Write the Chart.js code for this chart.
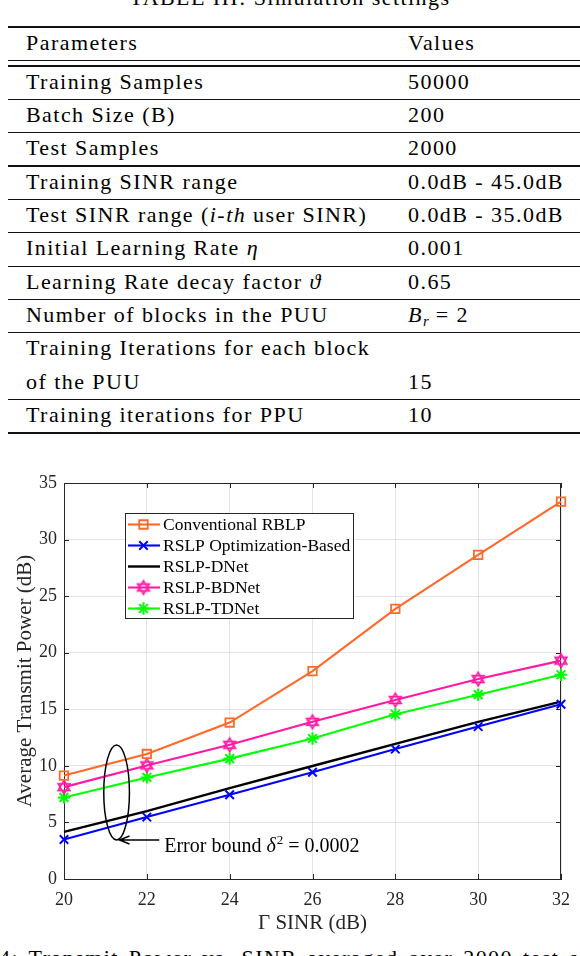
<!DOCTYPE html>
<html>
<head>
<meta charset="utf-8">
<script src="https://cdn.jsdelivr.net/npm/chart.js@4.4.1/dist/chart.umd.min.js"></script>
<style>
html,body{margin:0;padding:0;background:#fff;}
body{width:580px;height:956px;position:relative;overflow:hidden;font-family:'Liberation Serif','Times New Roman',serif;color:#000;}
.t{position:absolute;font-family:'Liberation Serif','Times New Roman',serif;font-size:22px;line-height:33px;letter-spacing:1.45px;white-space:nowrap;}
.t sub{font-size:15px;line-height:0;vertical-align:-4px;letter-spacing:0;}
.rule{position:absolute;left:8px;width:572px;background:#111;}
#chartWrap{position:absolute;left:0;top:450px;width:580px;height:490px;}
#cap2{word-spacing:3px;}
</style>
</head>
<body>
<div id="table"></div>
<div id="chartWrap"><canvas id="c" width="580" height="490"></canvas></div>
<script>
// ---------- table content ----------
const tableCaption = "TABLE III: Simulation settings";
const tableHeader = ["Parameters", "Values"];
const tableParameters = [
  ["Training Samples"],
  ["Batch Size (B)"],
  ["Test Samples"],
  ["Training SINR range"],
  ["Test SINR range (<i>i-th</i> user SINR)"],
  ["Initial Learning Rate <i>η</i>"],
  ["Learning Rate decay factor <i>ϑ</i>"],
  ["Number of blocks in the PUU"],
  ["Training Iterations for each block", "of the PUU"],
  ["Training iterations for PPU"]
];
const tableValues = [
  "50000", "200", "2000", "0.0dB - 45.0dB", "0.0dB - 35.0dB",
  "0.001", "0.65", "<i>B</i><sub><i>r</i></sub> = 2", "15", "10"
];
const figureCaption = "4: Transmit Power vs. SINR averaged over 2000 test samples.";

// ---------- chart data ----------
const sinrDb = [20, 22, 24, 26, 28, 30, 32];
const conventionalRBLP = [9.14, 11.05, 13.83, 18.37, 23.88, 28.65, 33.35];
const rslpOptimization = [3.49, 5.47, 7.45, 9.44, 11.48, 13.47, 15.44];
const rslpDNet = [4.16, 6.0, 8.03, 9.99, 11.95, 13.89, 15.68];
const rslpBDNet = [8.12, 10.04, 11.86, 13.89, 15.82, 17.67, 19.3];
const rslpTDNet = [7.21, 8.98, 10.64, 12.42, 14.56, 16.29, 18.05];
const seriesLabels = ["Conventional RBLP", "RSLP Optimization-Based", "RSLP-DNet", "RSLP-BDNet", "RSLP-TDNet"];
const xTickValues = [20, 22, 24, 26, 28, 30, 32];
const yTickValues = [0, 5, 10, 15, 20, 25, 30, 35];
const annotationText = ["Error bound ", "δ", "2", " = 0.0002"];

// ---------- build table ----------
(function buildTable(){
  const root = document.getElementById('table');
  const add = (html, left, baseline, extra) => {
    const d = document.createElement('div');
    d.className = 't';
    d.innerHTML = html;
    d.style.top = (baseline - 23.9) + 'px';
    if (extra) Object.assign(d.style, extra); else d.style.left = left + 'px';
    root.appendChild(d);
  };
  const rule = (center, h) => {
    const r = document.createElement('div');
    r.className = 'rule';
    r.style.top = (center - h / 2) + 'px';
    r.style.height = h + 'px';
    root.appendChild(r);
  };
  const colParam = 26, colValue = 408, step = 33.35;
  add(tableCaption, 0, 5, {left: '0px', width: '580px', textAlign: 'center'});
  rule(27.3, 1.7);
  add(tableHeader[0], colParam, 50);
  add(tableHeader[1], colValue, 50);
  rule(60.7, 1.2);
  rule(66.0, 1.2);
  let top = 66.0;
  tableParameters.forEach((lines, i) => {
    lines.forEach((ln, j) => add(ln, colParam, top + 22.4 + j * step));
    add(tableValues[i], colValue, top + 22.4 + (lines.length - 1) * step);
    top += lines.length * step;
    rule(top, i === tableParameters.length - 1 ? 1.7 : 1.2);
  });
  const cap = document.createElement('div');
  cap.className = 't';
  cap.id = 'cap2';
  cap.style.left = '-1px';
  cap.style.top = (964.5 - 23.9) + 'px';
  cap.innerHTML = '<span style="position:absolute;right:100%;">Fig.&nbsp;</span>' + figureCaption;
  root.appendChild(cap);
})();

// ---------- chart ----------
const FONT = "'Liberation Serif','Times New Roman',serif";
const axisColor = '#262626';
const colors = ['#ff6929', '#0000ff', '#000000', '#ff19a3', '#00ff00'];

function makeHexagram(color, R, lw) {
  const s = Math.ceil(2 * R + lw + 2);
  const c = document.createElement('canvas');
  c.width = s; c.height = s;
  const g = c.getContext('2d');
  g.strokeStyle = color; g.lineWidth = lw; g.lineJoin = 'miter';
  const cx = s / 2, cy = s / 2;
  [-90, 90].forEach(a0 => {
    g.beginPath();
    for (let k = 0; k < 3; k++) {
      const a = (a0 + 120 * k) * Math.PI / 180;
      const px = cx + R * Math.cos(a), py = cy + R * Math.sin(a);
      if (k) g.lineTo(px, py); else g.moveTo(px, py);
    }
    g.closePath();
    g.stroke();
  });
  return c;
}
const hexagram = makeHexagram(colors[3], 6.8, 1.6);

const pts = arr => sinrDb.map((x, i) => ({x, y: arr[i]}));
const seriesData = [conventionalRBLP, rslpOptimization, rslpDNet, rslpBDNet, rslpTDNet];
const markerStyles = [
  {pointStyle: 'rect', pointRadius: 6, pointBorderWidth: 1.8},
  {pointStyle: 'crossRot', pointRadius: 6, pointBorderWidth: 2},
  {pointStyle: false, pointRadius: 0, pointBorderWidth: 0},
  {pointStyle: hexagram, pointRadius: 7, pointBorderWidth: 1.6},
  {pointStyle: 'star', pointRadius: 6.2, pointBorderWidth: 2}
];

const datasets = seriesData.map((arr, i) => Object.assign({
  label: seriesLabels[i],
  data: pts(arr),
  borderColor: colors[i],
  backgroundColor: 'rgba(0,0,0,0)',
  pointBorderColor: colors[i],
  pointBackgroundColor: 'rgba(0,0,0,0)',
  borderWidth: i === 2 ? 2.4 : 2.1,
  tension: 0,
  clip: false
}, markerStyles[i]));

function drawMarker(ctx, ds, x, y) {
  if (!ds.pointStyle || !ds.pointRadius) return;
  ctx.save();
  ctx.strokeStyle = ds.pointBorderColor;
  ctx.fillStyle = 'rgba(0,0,0,0)';
  ctx.lineWidth = ds.pointBorderWidth;
  if (Chart.helpers && Chart.helpers.drawPoint) {
    Chart.helpers.drawPoint(ctx, {pointStyle: ds.pointStyle, radius: ds.pointRadius, borderWidth: ds.pointBorderWidth, rotation: 0}, x, y);
  } else if (ds.pointStyle instanceof HTMLCanvasElement) {
    ctx.drawImage(ds.pointStyle, x - ds.pointStyle.width / 2, y - ds.pointStyle.height / 2);
  }
  ctx.restore();
}

const frameTicksPlugin = {
  id: 'frameTicks',
  beforeDatasetsDraw(chart) {
    const {ctx, chartArea: a, scales: {x, y}} = chart;
    ctx.save();
    ctx.strokeStyle = axisColor;
    ctx.lineWidth = 1;
    ctx.beginPath();
    ctx.moveTo(a.left, a.top + 0.5); ctx.lineTo(a.right, a.top + 0.5);
    ctx.moveTo(a.right - 0.5, a.top); ctx.lineTo(a.right - 0.5, a.bottom);
    x.ticks.forEach(t => {
      const p = Math.round(x.getPixelForValue(t.value)) + 0.5;
      ctx.moveTo(p, a.bottom); ctx.lineTo(p, a.bottom - 5);
      ctx.moveTo(p, a.top); ctx.lineTo(p, a.top + 5);
    });
    y.ticks.forEach(t => {
      const p = Math.round(y.getPixelForValue(t.value)) + 0.5;
      ctx.moveTo(a.left, p); ctx.lineTo(a.left + 5, p);
      ctx.moveTo(a.right, p); ctx.lineTo(a.right - 5, p);
    });
    ctx.stroke();
    ctx.restore();
  }
};

const annotationPlugin = {
  id: 'errorBound',
  afterDatasetsDraw(chart) {
    const {ctx, scales: {x, y}} = chart;
    const px = v => x.getPixelForValue(v), py = v => y.getPixelForValue(v);
    ctx.save();
    ctx.strokeStyle = '#000';
    ctx.lineWidth = 1.5;
    const cx = px(21.27), cy = py(7.65);
    const rx = px(21.27 + 0.31) - cx, ry = cy - py(7.65 + 4.2);
    ctx.beginPath();
    ctx.ellipse(cx, cy, rx, ry, 0, 0, Math.PI * 2);
    ctx.stroke();
    const tipX = px(21.34), tipY = py(3.45), tailX = px(22.3);
    ctx.beginPath();
    ctx.moveTo(tailX, tipY); ctx.lineTo(tipX, tipY);
    ctx.moveTo(tipX + 10, tipY - 4); ctx.lineTo(tipX, tipY); ctx.lineTo(tipX + 10, tipY + 4);
    ctx.stroke();
    let tx = px(22.42);
    const ty = py(2.41);
    ctx.fillStyle = '#000';
    ctx.textBaseline = 'alphabetic';
    ctx.textAlign = 'left';
    ctx.font = "20px " + FONT;
    ctx.fillText(annotationText[0], tx, ty); tx += ctx.measureText(annotationText[0]).width;
    ctx.font = "italic 20px " + FONT;
    ctx.fillText(annotationText[1], tx, ty); tx += ctx.measureText(annotationText[1]).width + 1;
    ctx.font = "13px " + FONT;
    ctx.fillText(annotationText[2], tx, ty - 8); tx += ctx.measureText(annotationText[2]).width;
    ctx.font = "20px " + FONT;
    ctx.fillText(annotationText[3], tx, ty);
    ctx.restore();
  }
};

const boxLegendPlugin = {
  id: 'boxLegend',
  afterDraw(chart) {
    const {ctx, chartArea: a} = chart;
    const x0 = a.left + 61, y0 = a.top + 30, w = 228, h = 105, rowH = 21;
    ctx.save();
    ctx.fillStyle = '#fff';
    ctx.fillRect(x0, y0, w, h);
    ctx.strokeStyle = axisColor;
    ctx.lineWidth = 1;
    ctx.strokeRect(x0 + 0.5, y0 + 0.5, w, h);
    ctx.font = "17.5px " + FONT;
    ctx.textBaseline = 'middle';
    ctx.textAlign = 'left';
    chart.data.datasets.forEach((ds, i) => {
      const cy = y0 + 11.5 + i * rowH;
      ctx.strokeStyle = ds.borderColor;
      ctx.lineWidth = ds.borderWidth;
      ctx.beginPath();
      ctx.moveTo(x0 + 3, cy); ctx.lineTo(x0 + 35, cy);
      ctx.stroke();
      drawMarker(ctx, ds, x0 + 18.5, cy);
      ctx.fillStyle = '#000';
      ctx.fillText(ds.label, x0 + 38, cy + 1);
    });
    ctx.restore();
  }
};

new Chart(document.getElementById('c'), {
  type: 'line',
  data: {datasets},
  options: {
    responsive: false,
    animation: false,
    events: [],
    layout: {padding: {top: 33, right: 16, left: 0, bottom: 0}},
    plugins: {legend: {display: false}, tooltip: {enabled: false}},
    scales: {
      x: {
        type: 'linear', min: 20, max: 32,
        afterBuildTicks: s => { s.ticks = xTickValues.map(v => ({value: v})); },
        afterFit: s => { s.height = 61; },
        ticks: {font: {family: FONT, size: 18}, color: axisColor, padding: 10, maxRotation: 0},
        grid: {color: 'rgba(38,38,38,0.12)', drawTicks: false, lineWidth: 1},
        border: {color: axisColor, width: 1},
        title: {display: true, text: 'Γ SINR (dB)', font: {family: FONT, size: 21}, color: axisColor, padding: {top: 0, bottom: 4}}
      },
      y: {
        type: 'linear', min: 0, max: 35,
        afterBuildTicks: s => { s.ticks = yTickValues.map(v => ({value: v})); },
        afterFit: s => { s.width = 64; },
        ticks: {font: {family: FONT, size: 18}, color: axisColor, padding: 7},
        grid: {color: 'rgba(38,38,38,0.12)', drawTicks: false, lineWidth: 1},
        border: {color: axisColor, width: 1},
        title: {display: true, text: 'Average Transmit Power (dB)', font: {family: FONT, size: 21}, color: axisColor, padding: {top: 12.4, bottom: 0}}
      }
    }
  },
  plugins: [frameTicksPlugin, annotationPlugin, boxLegendPlugin]
});
</script>
</body>
</html>
